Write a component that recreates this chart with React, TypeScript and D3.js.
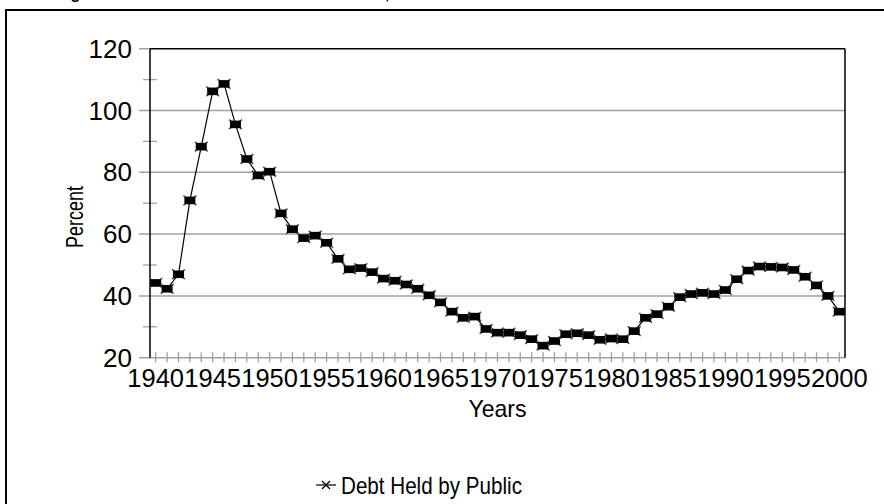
import React from "react";
import * as d3 from "d3";

const years: number[] = d3.range(1940, 2001);
const debtHeldByPublic: number[] = [
  44.2, 42.3, 47.0, 70.9, 88.3, 106.2, 108.6, 95.5, 84.3, 79.0,
  80.2, 66.7, 61.6, 58.7, 59.5, 57.2, 52.0, 48.6, 49.0, 47.7,
  45.6, 44.9, 43.7, 42.3, 40.2, 37.9, 34.9, 32.9, 33.3, 29.3,
  28.1, 28.1, 27.3, 26.0, 23.9, 25.4, 27.6, 27.9, 27.3, 25.8,
  26.2, 26.0, 28.6, 32.9, 34.1, 36.5, 39.6, 40.6, 41.0, 40.6,
  41.9, 45.4, 48.2, 49.5, 49.4, 49.2, 48.4, 46.2, 43.4, 40.0,
  34.9,
];
const yTicks: number[] = [20, 40, 60, 80, 100, 120];
const yMinorTicks: number[] = [30, 50, 70, 90, 110];
const xLabelYears: number[] = d3.range(1940, 2001, 5);
const titleText = "Figure 1. Federal Debt as a Percent of GDP, 1940-2000";
const xTitle = "Years";
const yTitle = "Percent";
const seriesName = "Debt Held by Public";

const FONT = "Arial, 'Liberation Sans', sans-serif";

export default function App() {
  const left = 150, right = 845, top = 48.7, bottom = 357.7;
  const x = d3.scaleBand<number>().domain(years).range([left, right]);
  const cx = (yr: number) => (x(yr) as number) + x.bandwidth() / 2;
  const y = d3.scaleLinear().domain([20, 120]).range([bottom, top]);
  const line = d3
    .line<number>()
    .x((_, i) => cx(years[i]))
    .y((d) => y(d));
  const gray = "#a0a0a0";

  const marker = (mx: number, my: number, key: number) => (
    <g key={key} transform={`translate(${mx},${my})`}>
      <line x1={-6.5} y1={-4.8} x2={6.5} y2={4.8} stroke="#555" strokeWidth={1.6} />
      <line x1={-6.5} y1={4.8} x2={6.5} y2={-4.8} stroke="#555" strokeWidth={1.6} />
      <rect x={-5.5} y={-3.8} width={11} height={7.6} fill="#000" />
    </g>
  );

  return (
    <svg
      width={884}
      height={504}
      style={{ position: "absolute", left: 0, top: 0, background: "#fff" }}
      fontFamily={FONT}
    >
      <rect x={0} y={0} width={884} height={504} fill="#fff" />
      {/* title, mostly cut off above the image */}
      <text x={56} y={-1} fontSize={16.3} fontWeight="bold" fill="#000">
        {titleText}
      </text>
      {/* chart frame */}
      <rect x={6} y={10} width={920} height={520} fill="none" stroke="#000" strokeWidth={2} />

      {/* gridlines */}
      {yTicks.map((t) => (
        <line
          key={"g" + t}
          x1={139}
          x2={t === 120 ? left : right}
          y1={y(t)}
          y2={y(t)}
          stroke={gray}
          strokeWidth={1.5}
        />
      ))}
      {yMinorTicks.map((t) => (
        <line key={"m" + t} x1={143} x2={157} y1={y(t)} y2={y(t)} stroke={gray} strokeWidth={1.3} />
      ))}
      {years.map((yr) => (
        <line key={"xt" + yr} x1={cx(yr)} x2={cx(yr)} y1={bottom - 5.5} y2={bottom + 4.5} stroke={gray} strokeWidth={1.3} />
      ))}
      {/* plot borders */}
      <line x1={left} x2={right} y1={top} y2={top} stroke="#000" strokeWidth={1.5} />
      <line x1={right} x2={right} y1={top} y2={bottom} stroke="#000" strokeWidth={1.5} />
      <line x1={left} x2={left} y1={top} y2={bottom} stroke="#000" strokeWidth={1.5} />

      {/* y tick labels */}
      {yTicks.map((t) => (
        <text key={"yl" + t} x={132} y={y(t) + 9} fontSize={26} textAnchor="end" fill="#000">
          {t}
        </text>
      ))}
      {/* x tick labels */}
      {xLabelYears.map((yr) => (
        <text key={"xl" + yr} x={cx(yr)} y={387} fontSize={25.5} textAnchor="middle" fill="#000">
          {yr}
        </text>
      ))}
      {/* axis titles */}
      <text
        x={(left + right) / 2}
        y={417}
        fontSize={24}
        textAnchor="middle"
        textLength={58}
        lengthAdjust="spacingAndGlyphs"
        fill="#000"
      >
        {xTitle}
      </text>
      <text
        transform={`translate(83,217) rotate(-90)`}
        fontSize={24}
        textAnchor="middle"
        textLength={62}
        lengthAdjust="spacingAndGlyphs"
        fill="#000"
      >
        {yTitle}
      </text>

      {/* series */}
      <path d={line(debtHeldByPublic) as string} fill="none" stroke="#000" strokeWidth={1.2} />
      {debtHeldByPublic.map((v, i) => marker(cx(years[i]), y(v), i))}

      {/* legend */}
      <g>
        <line x1={316} x2={336} y1={485} y2={485} stroke="#000" strokeWidth={1.2} />
        <line x1={322} x2={330} y1={481} y2={489} stroke="#000" strokeWidth={1.2} />
        <line x1={322} x2={330} y1={489} y2={481} stroke="#000" strokeWidth={1.2} />
        <text x={341} y={494} fontSize={24} textLength={181} lengthAdjust="spacingAndGlyphs" fill="#000">
          {seriesName}
        </text>
      </g>
    </svg>
  );
}
